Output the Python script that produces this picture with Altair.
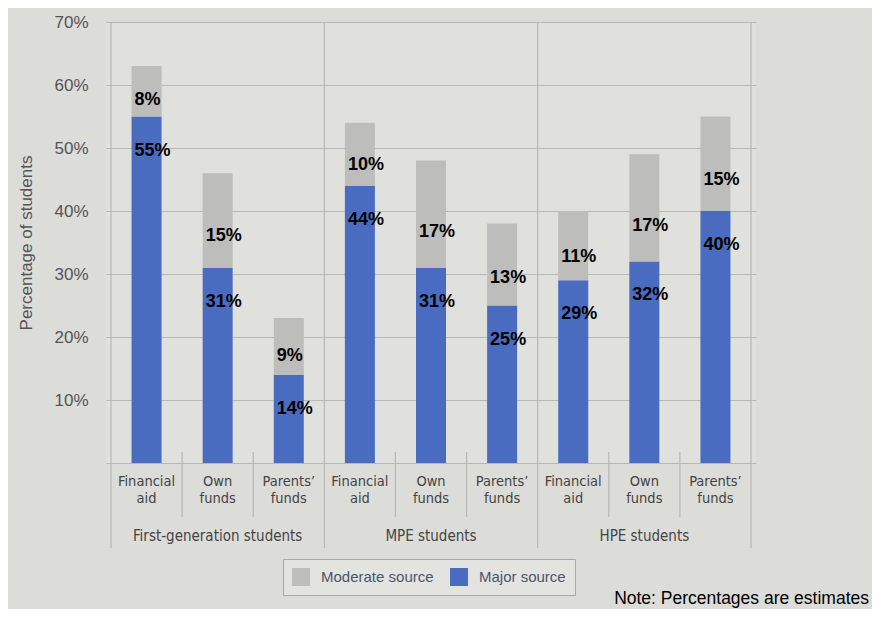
import altair as alt
import pandas as pd

# ---- data ----
groups = ["First-generation students", "MPE students", "HPE students"]
sources = ["Financial\naid", "Own\nfunds", "Parents’\nfunds"]
major = [55, 31, 14, 44, 31, 25, 29, 32, 40]
moderate = [8, 15, 9, 10, 17, 13, 11, 17, 15]
y_ticks = [0, 10, 20, 30, 40, 50, 60, 70]
series_names = ["Moderate source", "Major source"]
note_text = "Note: Percentages are estimates"

# ---- tables built from the arrays ----
rows = []
wide = []
for gi, g in enumerate(groups):
    for si, s in enumerate(sources):
        k = gi * len(sources) + si
        pos = k + 0.5
        wide.append({"pos": pos, "group": g, "source": s,
                     "major": major[k], "moderate": moderate[k]})
        rows.append({"pos": pos, "series": "Major source", "ord": 0, "value": major[k]})
        rows.append({"pos": pos, "series": "Moderate source", "ord": 1, "value": moderate[k]})
long_df = pd.DataFrame(rows)
wide_df = pd.DataFrame(wide)
n = len(wide_df)
group_df = pd.DataFrame({"group": groups,
                         "center": [gi * len(sources) + len(sources) / 2 for gi in range(len(groups))]})
group_edges = pd.DataFrame({"x": [gi * len(sources) for gi in range(len(groups) + 1)]})
sub_edges = pd.DataFrame({"x": [gi * len(sources) + j for gi in range(len(groups)) for j in range(1, len(sources))]})

W, H = 650, 441
GRID = "#b7b7b3"
NARROW = "Liberation Sans Narrow, Arial Narrow, DejaVu Sans Condensed, sans-serif"

xs = alt.Scale(domain=[0, n])
ys = alt.Scale(domain=[0, 70])

bars = alt.Chart(long_df).mark_bar(size=30).encode(
    x=alt.X("pos:Q", scale=xs, axis=None),
    y=alt.Y("value:Q", stack="zero", scale=ys,
            axis=alt.Axis(values=y_ticks, labelExpr="datum.value == 0 ? '' : datum.value + '%'",
                          title="Percentage of students", grid=True, gridColor=GRID, gridWidth=1.2,
                          ticks=False, domain=False, labelPadding=18, labelFontSize=17,
                          labelFont="Liberation Sans", labelColor="#555555",
                          titleFont="Liberation Sans", titleFontSize=17, titleFontWeight="normal",
                          titleColor="#555555", titlePadding=18)),
    color=alt.Color("series:N", scale=alt.Scale(domain=series_names, range=["#bdbdbb", "#4a6cc0"]),
                    legend=alt.Legend(title=None, orient="none", legendX=177, legendY=537,
                                      direction="horizontal", symbolType="square", symbolSize=324,
                                      symbolStrokeWidth=0, symbolOpacity=1, labelFontSize=15,
                                      labelFont="Liberation Sans", labelColor="#4a5570",
                                      columnPadding=16, labelOffset=11, padding=9,
                                      strokeColor="#a9a9a6", fillColor="#e3e3e0")),
    order=alt.Order("ord:Q"),
)

major_lbl = alt.Chart(wide_df).mark_text(
    align="left", baseline="middle", dx=-12, dy=34, fontSize=18, fontWeight="bold",
    font="Liberation Sans", color="black"
).encode(
    x=alt.X("pos:Q", scale=xs),
    y=alt.Y("major:Q", scale=ys),
    text=alt.Text("lbl:N"),
).transform_calculate(lbl="datum.major + '%'")

mod_lbl = alt.Chart(wide_df).mark_text(
    align="left", baseline="middle", dx=-12, fontSize=18, fontWeight="bold",
    font="Liberation Sans", color="black"
).encode(
    x=alt.X("pos:Q", scale=xs),
    y=alt.Y("my:Q", scale=ys),
    text=alt.Text("lbl:N"),
).transform_calculate(lbl="datum.moderate + '%'", my="datum.major + datum.moderate / 3")

g_rules = alt.Chart(group_edges).mark_rule(color=GRID, strokeWidth=1.2).encode(
    x=alt.X("x:Q", scale=xs), y=alt.value(0), y2=alt.value(526))

s_rules = alt.Chart(sub_edges).mark_rule(color=GRID, strokeWidth=1.2).encode(
    x=alt.X("x:Q", scale=xs), y=alt.value(430), y2=alt.value(495))

cat_lbl = alt.Chart(wide_df).mark_text(
    align="center", baseline="top", lineBreak="\n", lineHeight=17, fontSize=14.5,
    font=NARROW, color="#444444"
).encode(x=alt.X("pos:Q", scale=xs), y=alt.value(453), text="source:N")

grp_lbl = alt.Chart(group_df).mark_text(
    align="center", baseline="middle", fontSize=15, font=NARROW, color="#444444"
).encode(x=alt.X("center:Q", scale=xs), y=alt.value(514), text="group:N")

note = alt.Chart(pd.DataFrame({"t": [note_text]})).mark_text(
    align="right", baseline="middle", fontSize=17.5, font="Liberation Sans", color="black"
).encode(x=alt.value(763), y=alt.value(577), text="t:N")

chart = alt.layer(bars, major_lbl, mod_lbl, g_rules, s_rules, cat_lbl, grp_lbl, note).properties(
    width=W, height=H,
    autosize=alt.AutoSizeParams(type="none"),
    padding={"left": 98, "top": 14, "right": 116, "bottom": 146},
    background="#dcdcd9",
).configure_view(fill="#e0e0dd", stroke=None)

chart.save("out.html", embed_options={"renderer": "svg", "actions": False})
